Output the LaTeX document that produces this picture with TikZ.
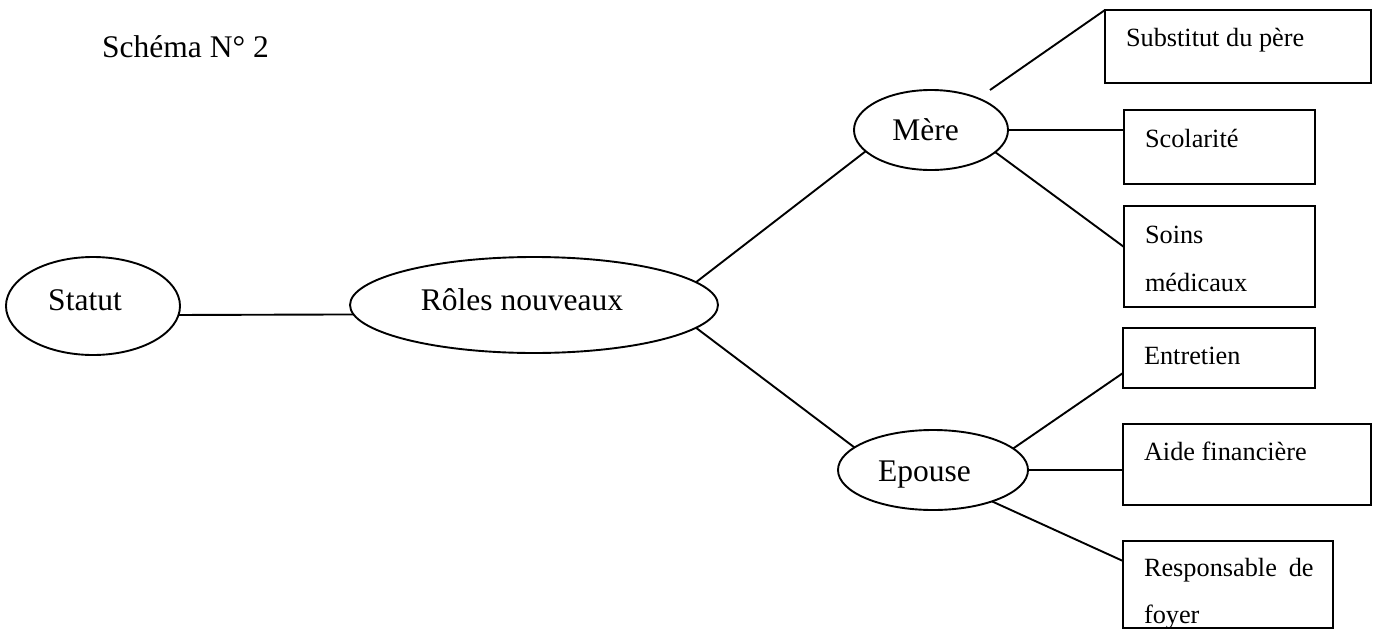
\documentclass[tikz,border=0pt]{standalone}
\usepackage{fontspec}
\setmainfont{Liberation Serif}
\usetikzlibrary{shapes.geometric,calc}
\tikzset{
  ell/.style={draw, ellipse, line width=1.9pt, inner sep=0pt, outer sep=0pt,
    font=\fontsize{31.5pt}{38pt}\selectfont, text depth=0pt},
  bx/.style={draw, rectangle, line width=1.9pt, inner sep=0pt, outer sep=0pt, anchor=north west},
  btext/.style={anchor=base west, inner sep=0pt, outer sep=0pt,
    font=\fontsize{26.3pt}{47.5pt}\selectfont},
  link/.style={line width=1.9pt}
}
\begin{document}
\begin{tikzpicture}[x=1pt,y=-1pt]
\useasboundingbox (0,0) rectangle (1377,632);
% title
\node[anchor=base west, inner sep=0pt, font=\fontsize{31.5pt}{38pt}\selectfont] (title) at (102,57) {Schéma N° 2};
% ellipses
\node[ell, minimum width=174pt, minimum height=98pt, text height=8pt] (stat) at (93,306) {Statut\kern16pt};
\node[ell, minimum width=368pt, minimum height=96pt, text height=10pt] (role) at (534,305) {Rôles nouveaux\kern24pt};
\node[ell, minimum width=154pt, minimum height=80pt, text height=20pt] (mere) at (931,130) {Mère\kern11pt};
\node[ell, minimum width=190pt, minimum height=80pt, text height=22pt] (epo) at (933,470) {Epouse\kern17pt};
% boxes
\node[bx, minimum width=266pt, minimum height=73pt] (sub) at (1105,10) {};
\node[bx, minimum width=191pt, minimum height=74pt] (sco) at (1124,110) {};
\node[bx, minimum width=191pt, minimum height=101pt] (soi) at (1124,206) {};
\node[bx, minimum width=192pt, minimum height=60pt] (ent) at (1123,328) {};
\node[bx, minimum width=248pt, minimum height=81pt] (aid) at (1123,424) {};
\node[bx, minimum width=210pt, minimum height=87pt] (res) at (1123,541) {};
% box texts
\node[btext] (subt) at ($(sub.north west)+(21,36)$) {Substitut du père};
\node[btext] (scot) at ($(sco.north west)+(21,37)$) {Scolarité};
\node[btext] (soit) at ($(soi.north west)+(21,37)$) {\vtop{\baselineskip=48pt\hbox{Soins}\hbox{médicaux}}};
\node[btext] (entt) at ($(ent.north west)+(21,36)$) {Entretien};
\node[btext] (aidt) at ($(aid.north west)+(21,36)$) {Aide financière};
\node[btext] (rest) at ($(res.north west)+(21,35)$) {\vtop{\baselineskip=47pt\hbox{Responsable\hspace{0.45em}de}\hbox{foyer}}};
% connectors
\coordinate (mfree) at (990,90);
\draw[link] (stat.-6.7) -- (role.183.5);
\draw[link] (role.8) -- (mere.198.1);
\draw[link] (role.-8) -- (epo.164.6);
\draw[link] (mfree) -- (sub.north west);
\draw[link] (mere.east) -- (mere.east -| sco.west);
\draw[link] (mere.-19.4) -- ($(soi.north west)+(0,41)$);
\draw[link] (epo.15) -- ($(ent.north west)+(0,45)$);
\draw[link] (epo.east) -- (epo.east -| aid.west);
\draw[link] (epo.-28.8) -- ($(res.north west)+(0,20)$);
\end{tikzpicture}
\end{document}
